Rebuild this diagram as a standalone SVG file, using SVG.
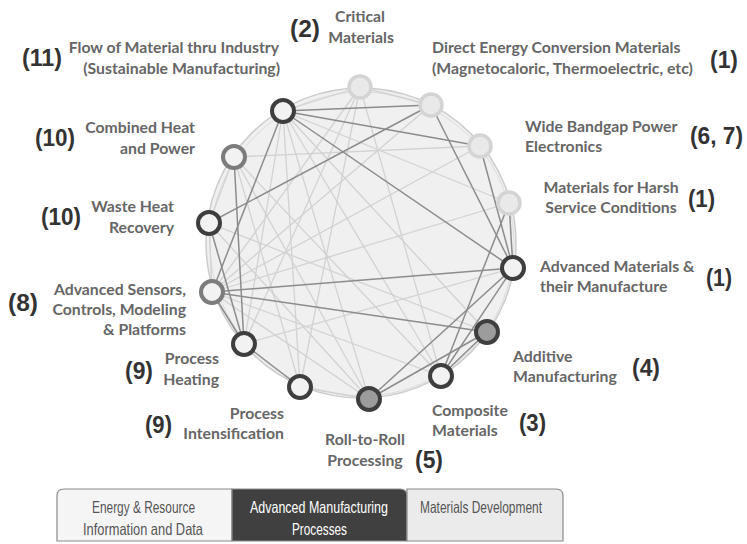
<svg xmlns="http://www.w3.org/2000/svg" width="747" height="544" viewBox="0 0 747 544">
<style>
.lbl{font-family:Lato,"Open Sans","Liberation Sans",sans-serif;font-weight:bold;font-size:15.8px;fill:#666}
.num{font-family:"Liberation Sans",Arial,sans-serif;font-weight:bold;font-size:24px;fill:#333}
.r{text-anchor:end}.c{text-anchor:middle}
.ed{stroke:#8c8c8c;stroke-width:1.5;fill:none}
.el{stroke:#d2d2d2;stroke-width:1.3;fill:none}
.nl{fill:#e9e9e9;stroke:#d4d4d4;stroke-width:3.5}
.nd{fill:#f2f2f2;stroke:#3e3e3e;stroke-width:4}
.ng{fill:#9c9c9c;stroke:#3e3e3e;stroke-width:4}
.nm{fill:#f2f2f2;stroke:#7c7c7c;stroke-width:4}
.box{stroke:#8a8a8a;stroke-width:1.2}
.bt{font-family:"Liberation Sans",Arial,sans-serif;font-size:16.5px;fill:#555}
</style>
<rect width="747" height="544" fill="#fff"/>
<circle cx="361" cy="243" r="155" fill="#f0f0f0" stroke="#cdcdcd" stroke-width="1.5"/>
<circle cx="362" cy="244" r="152" fill="none" stroke="#dcdcdc" stroke-width="1"/>
<g id="connectors">
<line class="el" x1="283" y1="111" x2="509" y2="203"/>
<line class="el" x1="283" y1="111" x2="244" y2="344"/>
<line class="el" x1="283" y1="111" x2="300" y2="387"/>
<line class="el" x1="283" y1="111" x2="369" y2="399"/>
<line class="el" x1="283" y1="111" x2="441" y2="376"/>
<line class="el" x1="283" y1="111" x2="487" y2="332"/>
<line class="el" x1="360" y1="87" x2="212" y2="292"/>
<line class="el" x1="360" y1="87" x2="244" y2="344"/>
<line class="el" x1="360" y1="87" x2="441" y2="376"/>
<line class="el" x1="360" y1="87" x2="283" y2="111"/>
<line class="el" x1="360" y1="87" x2="431" y2="105"/>
<line class="el" x1="431" y1="105" x2="212" y2="292"/>
<line class="el" x1="480" y1="146" x2="234" y2="157"/>
<line class="el" x1="480" y1="146" x2="212" y2="292"/>
<line class="el" x1="509" y1="203" x2="212" y2="292"/>
<line class="el" x1="234" y1="157" x2="369" y2="399"/>
<line class="el" x1="234" y1="157" x2="441" y2="376"/>
<line class="el" x1="234" y1="157" x2="300" y2="387"/>
<line class="el" x1="209" y1="223" x2="487" y2="332"/>
<line class="el" x1="209" y1="223" x2="369" y2="399"/>
<line class="el" x1="212" y1="292" x2="441" y2="376"/>
<line class="el" x1="212" y1="292" x2="369" y2="399"/>
<line class="el" x1="244" y1="344" x2="513" y2="268"/>
<line class="el" x1="300" y1="387" x2="360" y2="87"/>
<line class="el" x1="300" y1="387" x2="369" y2="399"/>
<line class="el" x1="234" y1="157" x2="209" y2="223"/>
<line class="el" x1="209" y1="223" x2="212" y2="292"/>
<line class="ed" x1="283" y1="111" x2="431" y2="105"/>
<line class="ed" x1="283" y1="111" x2="480" y2="146"/>
<line class="ed" x1="283" y1="111" x2="513" y2="268"/>
<line class="ed" x1="283" y1="111" x2="212" y2="292"/>
<line class="ed" x1="431" y1="105" x2="209" y2="223"/>
<line class="ed" x1="431" y1="105" x2="513" y2="268"/>
<line class="ed" x1="480" y1="146" x2="513" y2="268"/>
<line class="ed" x1="212" y1="292" x2="513" y2="268"/>
<line class="ed" x1="212" y1="292" x2="487" y2="332"/>
<line class="ed" x1="209" y1="223" x2="244" y2="344" stroke="#555"/>
<line class="ed" x1="234" y1="157" x2="244" y2="344"/>
<line class="ed" x1="212" y1="292" x2="244" y2="344"/>
<line class="ed" x1="244" y1="344" x2="300" y2="387"/>
<line class="ed" x1="369" y1="399" x2="513" y2="268"/>
<line class="ed" x1="369" y1="399" x2="487" y2="332"/>
<line class="ed" x1="441" y1="376" x2="509" y2="203"/>
<line class="ed" x1="441" y1="376" x2="513" y2="268"/>
<line class="ed" x1="441" y1="376" x2="487" y2="332"/>
<line class="ed" x1="509" y1="203" x2="513" y2="268"/>
</g>
<g id="n-critical"><circle class="nl" cx="360" cy="87" r="11"/><text class="num" x="290" y="37" textLength="30" lengthAdjust="spacingAndGlyphs">(2)</text><text class="lbl c" x="360" y="22">Critical</text><text class="lbl c" x="361" y="43">Materials</text></g>
<g id="n-direct"><circle class="nl" cx="431" cy="105" r="11"/><text class="lbl" x="432" y="53">Direct Energy Conversion Materials</text><text class="lbl" x="432" y="74">(Magnetocaloric, Thermoelectric, etc)</text><text class="num" x="710" y="68" textLength="28" lengthAdjust="spacingAndGlyphs">(1)</text></g>
<g id="n-widebandgap"><circle class="nl" cx="480" cy="146" r="11"/><text class="lbl" x="525" y="132">Wide Bandgap Power</text><text class="lbl" x="525" y="152">Electronics</text><text class="num" x="690" y="144" textLength="53" lengthAdjust="spacingAndGlyphs">(6, 7)</text></g>
<g id="n-harsh"><circle class="nl" cx="509" cy="203" r="11"/><text class="lbl c" x="611" y="193">Materials for Harsh</text><text class="lbl c" x="611" y="213">Service Conditions</text><text class="num" x="688" y="207" textLength="27" lengthAdjust="spacingAndGlyphs">(1)</text></g>
<g id="n-advmat"><circle class="nd" cx="513" cy="268" r="11"/><text class="lbl" x="540" y="272">Advanced Materials &amp;</text><text class="lbl" x="540" y="292">their Manufacture</text><text class="num" x="706" y="286" textLength="26" lengthAdjust="spacingAndGlyphs">(1)</text></g>
<g id="n-additive"><circle class="ng" cx="487" cy="332" r="11"/><text class="lbl" x="513" y="362">Additive</text><text class="lbl" x="513" y="382">Manufacturing</text><text class="num" x="632" y="376" textLength="28" lengthAdjust="spacingAndGlyphs">(4)</text></g>
<g id="n-composite"><circle class="nd" cx="441" cy="376" r="11"/><text class="lbl" x="432" y="416">Composite</text><text class="lbl" x="432" y="436">Materials</text><text class="num" x="519" y="431" textLength="27" lengthAdjust="spacingAndGlyphs">(3)</text></g>
<g id="n-roll"><circle class="ng" cx="369" cy="399" r="11"/><text class="lbl c" x="365" y="445">Roll-to-Roll</text><text class="lbl c" x="365" y="466">Processing</text><text class="num" x="415" y="468" textLength="28" lengthAdjust="spacingAndGlyphs">(5)</text></g>
<g id="n-procint"><circle class="nd" cx="300" cy="387" r="11"/><text class="lbl r" x="284" y="419">Process</text><text class="lbl r" x="284" y="439">Intensification</text><text class="num" x="145" y="433" textLength="27" lengthAdjust="spacingAndGlyphs">(9)</text></g>
<g id="n-heating"><circle class="nd" cx="244" cy="344" r="11"/><text class="lbl r" x="219" y="364">Process</text><text class="lbl r" x="219" y="385">Heating</text><text class="num" x="125" y="379" textLength="28" lengthAdjust="spacingAndGlyphs">(9)</text></g>
<g id="n-sensors"><circle class="nm" cx="212" cy="292" r="11"/><text class="lbl r" x="186" y="295">Advanced Sensors,</text><text class="lbl r" x="186" y="315">Controls, Modeling</text><text class="lbl r" x="186" y="335">&amp; Platforms</text><text class="num" x="8" y="311" textLength="30" lengthAdjust="spacingAndGlyphs">(8)</text></g>
<g id="n-waste"><circle class="nd" cx="209" cy="223" r="11"/><text class="lbl r" x="174" y="212">Waste Heat</text><text class="lbl r" x="174" y="233">Recovery</text><text class="num" x="41" y="225" textLength="40" lengthAdjust="spacingAndGlyphs">(10)</text></g>
<g id="n-chp"><circle class="nm" cx="234" cy="157" r="11"/><text class="lbl r" x="195" y="133">Combined Heat</text><text class="lbl r" x="195" y="154">and Power</text><text class="num" x="35" y="146" textLength="40" lengthAdjust="spacingAndGlyphs">(10)</text></g>
<g id="n-flow"><circle class="nd" cx="283" cy="111" r="11"/><text class="lbl r" x="279" y="53">Flow of Material thru Industry</text><text class="lbl r" x="280" y="74">(Sustainable Manufacturing)</text><text class="num" x="22" y="66" textLength="40" lengthAdjust="spacingAndGlyphs">(11)</text></g>
<g id="legend">
<path class="box" d="M57,541 V496 Q57,489 64,489 H232 V541 Z" fill="#f5f5f5"/>
<path class="box" d="M232,541 V489 H400 Q407,489 407,496 V541 Z" fill="#404040"/>
<path class="box" d="M407,541 V489 H556 Q563,489 563,496 V541 Z" fill="#ebebeb"/>
<text class="bt" x="92" y="513" textLength="103" lengthAdjust="spacingAndGlyphs">Energy &amp; Resource</text>
<text class="bt" x="83" y="535" textLength="120" lengthAdjust="spacingAndGlyphs">Information and Data</text>
<text class="bt" x="250" y="513" textLength="138" lengthAdjust="spacingAndGlyphs" style="fill:#fff">Advanced Manufacturing</text>
<text class="bt" x="292" y="535" textLength="55" lengthAdjust="spacingAndGlyphs" style="fill:#fff">Processes</text>
<text class="bt" x="420" y="513" textLength="122" lengthAdjust="spacingAndGlyphs">Materials Development</text>
</g>
</svg>
